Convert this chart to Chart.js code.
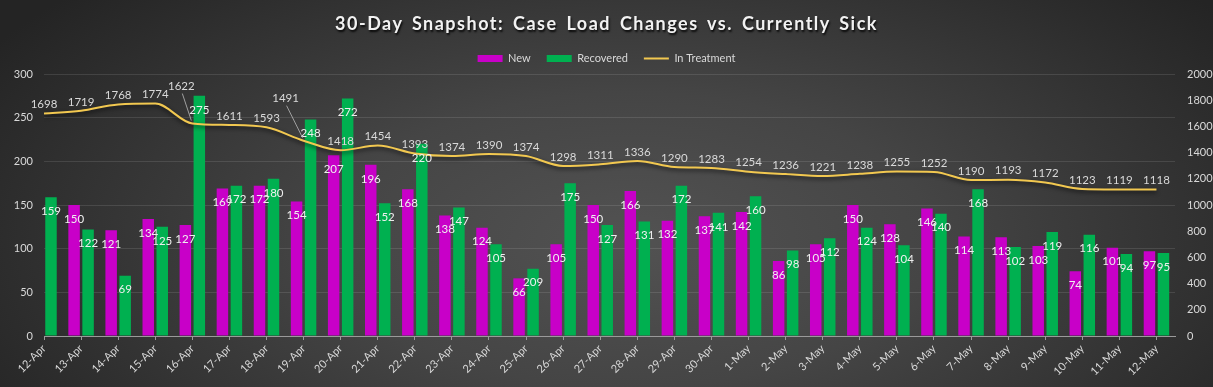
<!DOCTYPE html>
<html>
<head>
<meta charset="utf-8">
<script src="https://cdn.jsdelivr.net/npm/chart.js@4.4.1/dist/chart.umd.min.js"></script>
<style>
    html, body { margin: 0; padding: 0; }
    body {
        width: 1213px; height: 387px; overflow: hidden;
        background: radial-gradient(ellipse 62% 95% at 52% 62%, #525252 0%, #454545 40%, #2c2c2c 85%, #242424 100%);
    }
    #wrap { position: relative; width: 1213px; height: 387px; }
    #snapshot-chart { position: absolute; left: 0; top: 0; }
    #title {
        position: absolute; top: 12px; left: 0; width: 1213px;
        text-align: center; font: bold 18px Lato, sans-serif; color: #f2f2f2;
        letter-spacing: 1.5px; word-spacing: 3px;
        text-shadow: 1px 2px 2px rgba(0, 0, 0, 0.85);
    }
</style>
</head>
<body>
<div id="wrap">
    <canvas id="snapshot-chart" width="1213" height="387"></canvas>
    <div id="title">30-Day Snapshot: Case Load Changes vs. Currently Sick</div>
</div>
<script>
// ===== 30-DAY SNAPSHOT DATA =====
const dates = ['12-Apr', '13-Apr', '14-Apr', '15-Apr', '16-Apr', '17-Apr', '18-Apr', '19-Apr', '20-Apr', '21-Apr',
    '22-Apr', '23-Apr', '24-Apr', '25-Apr', '26-Apr', '27-Apr', '28-Apr', '29-Apr', '30-Apr', '1-May',
    '2-May', '3-May', '4-May', '5-May', '6-May', '7-May', '8-May', '9-May', '10-May', '11-May', '12-May'];

const newCases = [null, 150, 121, 134, 127, 169, 172, 154, 207, 196,
    168, 138, 124, 66, 105, 150, 166, 132, 137, 142,
    86, 105, 150, 128, 146, 114, 113, 103, 74, 101, 97];

const recovered = [159, 122, 69, 125, 275, 172, 180, 248, 272, 152,
    220, 147, 105, 77, 175, 127, 131, 172, 141, 160,
    98, 112, 124, 104, 140, 168, 102, 119, 116, 94, 95];

const inTreatment = [1698, 1719, 1768, 1774, 1622, 1611, 1593, 1491, 1418, 1454,
    1393, 1374, 1390, 1374, 1298, 1311, 1336, 1290, 1283, 1254,
    1236, 1221, 1238, 1255, 1252, 1190, 1193, 1172, 1123, 1119, 1118];

// label shown on the chart differs from the bar height here
const recoveredLabelText = { '25-Apr': '209' };

// labels that were pulled away from the line (with leader lines)
const lineLabelNudge = { '16-Apr': [-11, -37], '19-Apr': [-18, -42] };

const LABEL_COLOR = '#d9d9d9';

Chart.defaults.font.family = 'Lato';
Chart.defaults.font.size = 11;
Chart.defaults.color = LABEL_COLOR;

const toPoints = arr => arr.map((v, i) => ({ x: i, y: v }));

/**
 * Line shadow + data labels drawn on top
 */
const lineShadow = {
    id: 'lineShadow',
    beforeDatasetDraw(chart, args) {
        if (args.meta.type !== 'line') return;
        const ctx = chart.ctx;
        ctx.save();
        ctx.shadowColor = 'rgba(0, 0, 0, 0.7)';
        ctx.shadowBlur = 4;
        ctx.shadowOffsetY = 2;
    },
    afterDatasetDraw(chart, args) {
        if (args.meta.type !== 'line') return;
        chart.ctx.restore();
    }
};

const valueLabels = {
    id: 'valueLabels',
    afterDatasetsDraw(chart) {
        const ctx = chart.ctx;
        ctx.save();
        ctx.font = '11.5px Lato';
        ctx.textAlign = 'center';
        ctx.textBaseline = 'middle';

        chart.data.datasets.forEach((ds, di) => {
            const meta = chart.getDatasetMeta(di);
            meta.data.forEach((el, i) => {
                const v = ds.data[i].y;
                if (v == null) return;
                const day = dates[i];

                if (meta.type === 'line') {
                    const nudge = lineLabelNudge[day];
                    let lx = el.x, ly = el.y - 9;
                    if (nudge) {
                        lx = el.x + nudge[0];
                        ly = el.y + nudge[1];
                        ctx.strokeStyle = '#a0a0a0';
                        ctx.lineWidth = 1;
                        ctx.beginPath();
                        ctx.moveTo(lx + 1, ly + 7);
                        ctx.lineTo(el.x - 1, el.y - 3);
                        ctx.stroke();
                    }
                    ctx.fillStyle = LABEL_COLOR;
                    ctx.fillText(String(v), lx, ly);
                } else {
                    let text = String(v);
                    if (ds.label === 'Recovered' && recoveredLabelText[day]) text = recoveredLabelText[day];
                    ctx.fillStyle = '#efefef';
                    ctx.fillText(text, el.x, el.y + 14);
                }
            });
        });
        ctx.restore();
    }
};

const snapshotChart = new Chart(document.getElementById('snapshot-chart'), {
    type: 'bar',
    data: {
        datasets: [
            {
                label: 'New',
                data: toPoints(newCases),
                backgroundColor: '#c800c8',
                borderWidth: 0,
                pointStyle: 'rect',
                categoryPercentage: 0.755,
                barPercentage: 0.82,
                yAxisID: 'y',
                order: 1
            },
            {
                label: 'Recovered',
                data: toPoints(recovered),
                backgroundColor: '#00b050',
                borderWidth: 0,
                pointStyle: 'rect',
                categoryPercentage: 0.755,
                barPercentage: 0.82,
                yAxisID: 'y',
                order: 1
            },
            {
                type: 'line',
                label: 'In Treatment',
                data: toPoints(inTreatment),
                borderColor: '#f2c850',
                backgroundColor: '#f2c850',
                borderWidth: 2,
                pointRadius: 0,
                pointStyle: 'line',
                cubicInterpolationMode: 'monotone',
                fill: false,
                yAxisID: 'y1',
                order: 0
            }
        ]
    },
    options: {
        responsive: false,
        animation: false,
        devicePixelRatio: 1,
        layout: { padding: { top: 37, left: 0, right: 0, bottom: 0 } },
        plugins: {
            title: { display: false },
            tooltip: { enabled: false },
            legend: {
                position: 'top',
                labels: {
                    usePointStyle: true,
                    pointStyleWidth: 25,
                    boxWidth: 25,
                    boxHeight: 7,
                    padding: 16,
                    color: LABEL_COLOR,
                    font: { size: 11 },
                    sort: (a, b) => a.datasetIndex - b.datasetIndex
                }
            }
        },
        scales: {
            x: {
                type: 'linear',
                min: 0,
                max: 30.5,
                offset: false,
                afterFit: s => { s.height = 51; },
                ticks: {
                    stepSize: 1,
                    autoSkip: false,
                    includeBounds: false,
                    maxRotation: 45,
                    minRotation: 45,
                    color: LABEL_COLOR,
                    font: { size: 11 },
                    padding: 2,
                    callback: v => dates[v] ?? ''
                },
                grid: {
                    offset: false,
                    drawOnChartArea: false,
                    drawTicks: true,
                    tickLength: 4,
                    color: '#9a9a9a'
                },
                border: { display: true, color: '#9a9a9a', width: 1 }
            },
            y: {
                position: 'left',
                min: 0,
                max: 300,
                afterFit: s => { s.width = 44; },
                ticks: { stepSize: 50, color: LABEL_COLOR, padding: 11, font: { size: 11 } },
                grid: { color: 'rgba(255, 255, 255, 0.11)', drawTicks: false },
                border: { display: false }
            },
            y1: {
                position: 'right',
                min: 0,
                max: 2000,
                afterFit: s => { s.width = 38; },
                ticks: {
                    stepSize: 200, color: LABEL_COLOR, padding: 12, font: { size: 11 },
                    callback: v => String(v)
                },
                grid: { drawOnChartArea: false, drawTicks: false },
                border: { display: false }
            }
        }
    },
    plugins: [lineShadow, valueLabels]
});
</script>
</body>
</html>
